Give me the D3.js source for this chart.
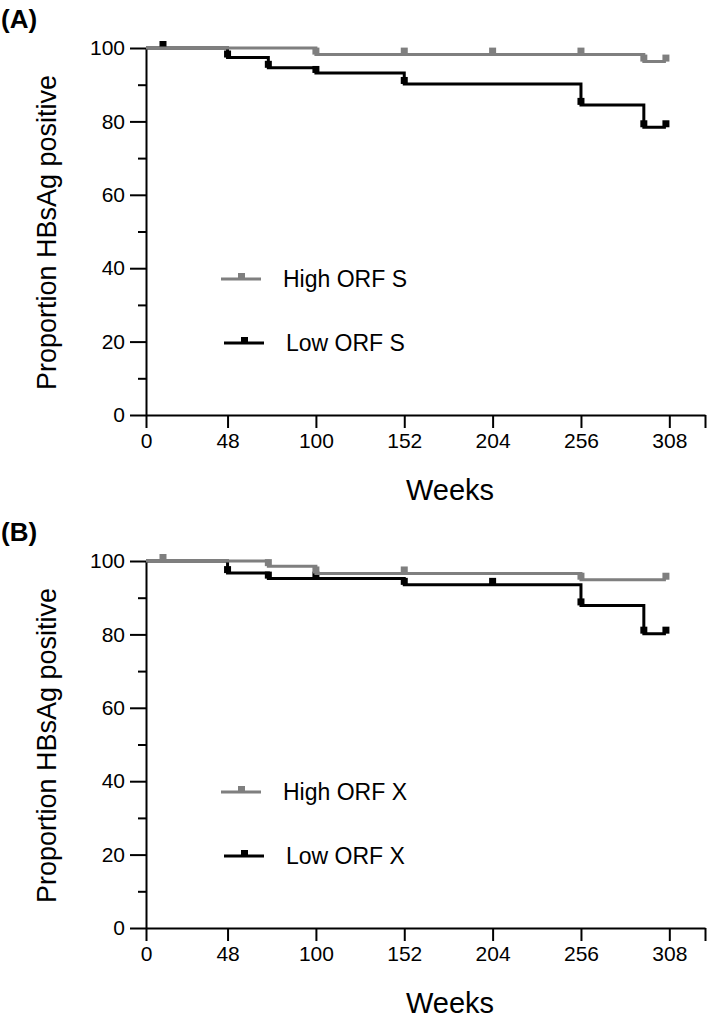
<!DOCTYPE html>
<html>
<head>
<meta charset="utf-8">
<script src="https://cdn.jsdelivr.net/npm/d3@7"></script>
<style>
  body { margin: 0; background: #fff; }
  svg text { font-family: "Liberation Sans", Arial, sans-serif; }
</style>
</head>
<body>
<svg id="chart" width="709" height="1019"></svg>
<script>
// tick labels
var xTicks = [0, 48, 100, 152, 204, 256, 308];
var yTicks = [0, 20, 40, 60, 80, 100];

// panel A : ORF S  (step = [week, % positive after the drop])
var highS_steps = [[0, 100], [100, 98.2], [293, 96.3], [306, 96.3]];
var highS_censor = [100, 152, 204, 256, 293, 306];
var lowS_steps = [[0, 100], [48, 97.4], [72, 94.6], [100, 93.2], [152, 90.2], [256, 84.5], [293, 78.4], [306, 78.4]];
var lowS_censor = [10, 48, 72, 100, 152, 256, 293, 306];

// panel B : ORF X
var highX_steps = [[0, 100], [72, 98.6], [100, 96.6], [256, 94.9], [306, 94.9]];
var highX_censor = [10, 72, 100, 152, 256, 306];
var lowX_steps = [[0, 100], [48, 96.7], [72, 95.2], [152, 93.5], [256, 87.9], [293, 80.2], [306, 80.2]];
var lowX_censor = [48, 72, 100, 152, 204, 256, 293, 306];

var GREY = "#7f7f7f";
var svg = d3.select("#chart");

function survivalAt(steps, t) {
    var s = steps[0][1];
    steps.forEach(function(d) { if (d[0] <= t) s = d[1]; });
    return s;
}

function drawPanel(offsetY, letter, series) {
    var g = svg.append("g").attr("transform", "translate(0," + offsetY + ")");

    var xScale = d3.scaleLinear().domain([0, 329]).range([146, 705]);
    var yScale = d3.scaleLinear().domain([0, 100]).range([415, 48]);

    // x axis (extra unlabeled tick at the end)
    var xAxis = d3.axisBottom(xScale)
        .tickValues(xTicks.concat([329]))
        .tickFormat(function(d) { return d === 329 ? "" : d; })
        .tickSize(13)
        .tickSizeOuter(0)
        .tickPadding(5);
    var gx = g.append("g")
        .attr("transform", "translate(0," + yScale(0) + ")")
        .call(xAxis);

    // y axis major + minor ticks
    var yAxis = d3.axisLeft(yScale)
        .tickValues(yTicks)
        .tickSize(16)
        .tickSizeOuter(0)
        .tickPadding(5);
    var gy = g.append("g")
        .attr("transform", "translate(" + xScale(0) + ",0)")
        .call(yAxis);
    var gyMinor = g.append("g")
        .attr("transform", "translate(" + xScale(0) + ",0)")
        .call(d3.axisLeft(yScale).tickValues([10, 30, 50, 70, 90]).tickSize(8).tickFormat(""));
    gyMinor.select(".domain").remove();

    [gx, gy, gyMinor].forEach(function(a) {
        a.selectAll("path, line").attr("stroke", "#000").attr("stroke-width", 2);
        a.selectAll("text").attr("font-size", 21).attr("fill", "#000")
            .attr("font-family", "Liberation Sans, Arial, sans-serif");
    });

    // curves, low first so the grey one lies on top
    series.forEach(function(s) {
        var pts = s.steps.map(function(d) { return [xScale(d[0]), yScale(d[1])]; });
        var line = d3.line().curve(d3.curveStepAfter);
        g.append("path")
            .attr("d", line(pts))
            .attr("fill", "none")
            .attr("stroke", s.color)
            .attr("stroke-width", 3);

        g.selectAll(null)
            .data(s.censor)
            .enter()
            .append("rect")
            .attr("x", function(d) { return xScale(d) - 3.5; })
            .attr("y", function(d) { return yScale(survivalAt(s.steps, d)) - 7; })
            .attr("width", 7)
            .attr("height", 7)
            .attr("fill", s.color);
    });

    // legend
    var legendRows = [series[1], series[0]];
    legendRows.forEach(function(s, i) {
        var ly = 279 + i * 64;
        var lx = 221 + i * 3;
        g.append("line")
            .attr("x1", lx).attr("x2", lx + 40)
            .attr("y1", ly).attr("y2", ly)
            .attr("stroke", s.color).attr("stroke-width", 3);
        g.append("rect")
            .attr("x", lx + 17).attr("y", ly - 6)
            .attr("width", 7).attr("height", 6)
            .attr("fill", s.color);
        g.append("text")
            .attr("x", lx + 62).attr("y", ly)
            .attr("dy", "0.35em")
            .attr("font-size", 23)
            .text(s.name);
    });

    // axis titles
    g.append("text")
        .attr("x", 450).attr("y", 490)
        .attr("dy", "0.35em")
        .attr("text-anchor", "middle")
        .attr("font-size", 29)
        .text("Weeks");
    g.append("text")
        .attr("transform", "translate(47," + ((yScale(0) + yScale(100)) / 2 + 1) + ") rotate(-90)")
        .attr("dy", "0.35em")
        .attr("text-anchor", "middle")
        .attr("font-size", 27)
        .text("Proportion HBsAg positive");

    g.append("text")
        .attr("x", 1).attr("y", 19)
        .attr("dy", "0.35em")
        .attr("font-size", 26)
        .attr("font-weight", "bold")
        .text(letter);
}

drawPanel(0, "(A)", [
    {name: "Low ORF S", steps: lowS_steps, censor: lowS_censor, color: "#000"},
    {name: "High ORF S", steps: highS_steps, censor: highS_censor, color: GREY}
]);
drawPanel(513, "(B)", [
    {name: "Low ORF X", steps: lowX_steps, censor: lowX_censor, color: "#000"},
    {name: "High ORF X", steps: highX_steps, censor: highX_censor, color: GREY}
]);
</script>
</body>
</html>
